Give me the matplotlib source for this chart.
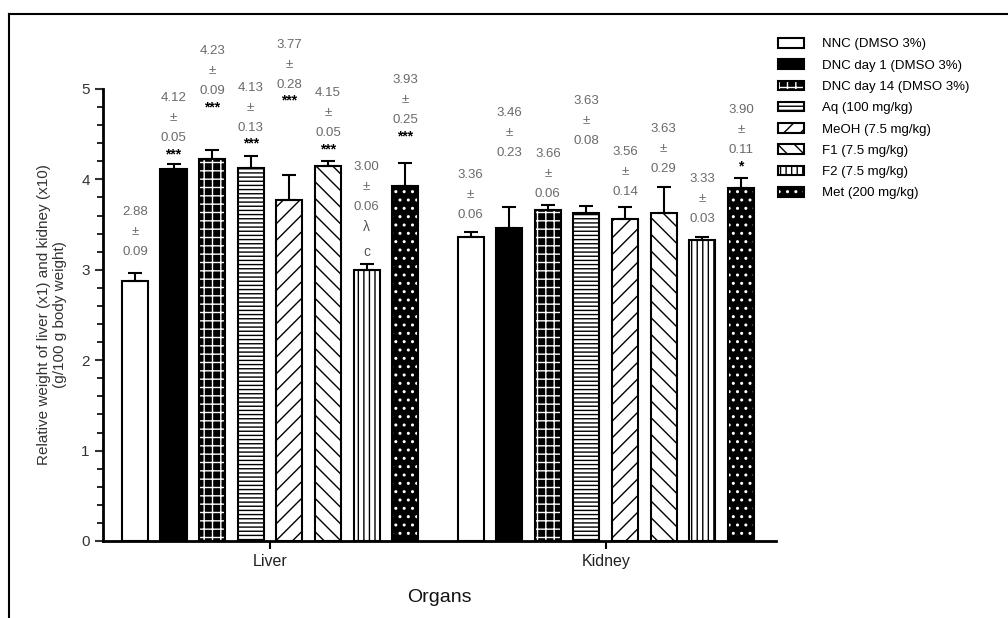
import numpy as np
import matplotlib
matplotlib.use('Agg')
import matplotlib.pyplot as plt
from matplotlib.lines import Line2D
from matplotlib.ticker import MultipleLocator

plt.rcParams['font.family'] = ['Liberation Sans', 'DejaVu Sans']
plt.rcParams['hatch.linewidth'] = 1.0

organs = ['Liver', 'Kidney']
groups = ['NNC (DMSO 3%)', 'DNC day 1 (DMSO 3%)', 'DNC day 14 (DMSO 3%)',
          'Aq (100 mg/kg)', 'MeOH (7.5 mg/kg)', 'F1 (7.5 mg/kg)',
          'F2 (7.5 mg/kg)', 'Met (200 mg/kg)']

liver_mean = [2.88, 4.12, 4.23, 4.13, 3.77, 4.15, 3.00, 3.93]
liver_sem = [0.09, 0.05, 0.09, 0.13, 0.28, 0.05, 0.06, 0.25]
kidney_mean = [3.36, 3.46, 3.66, 3.63, 3.56, 3.63, 3.33, 3.90]
kidney_sem = [0.06, 0.23, 0.06, 0.08, 0.14, 0.29, 0.03, 0.11]
liver_sig = [[], ['***'], ['***'], ['***'], ['***'], ['***'], ['λ', 'c'], ['***']]
kidney_sig = [[], [], [], [], [], [], [], ['*']]

# layout: how far (px) the first label line sits above each error bar
liver_lift = [61, 66, 99, 68, 130, 68, 97, 83]
kidney_lift = [57, 94, 51, 105, 55, 58, 58, 68]

# face colour, hatch, hatch colour
styles = [('white', '', 'black'), ('black', '', 'black'), ('black', '++', 'white'),
          ('white', '----', 'black'), ('white', '//', 'black'), ('white', '\\\\', 'black'),
          ('white', '|||', 'black'), ('black', '..', 'white')]

fig = plt.figure(figsize=(10.08, 6.18), dpi=100)
ax = fig.add_axes([103/1008, 1-541/618, (776-103)/1008, (541-89)/618])

step = 0.115
width = 0.0775
handles = []
for i, (face, hatch, hcol) in enumerate(styles):
    xs = np.arange(len(organs)) + (i - 3.5)*step
    ys = [liver_mean[i], kidney_mean[i]]
    err = [liver_sem[i], kidney_sem[i]]
    b1 = ax.bar(xs, ys, width, color=face, hatch=hatch, edgecolor=hcol, linewidth=0, zorder=2)
    b2 = ax.bar(xs, ys, width, facecolor='none', edgecolor='black', linewidth=1.5, zorder=3)
    ax.errorbar(xs, ys, yerr=[np.zeros(2), err], fmt='none', ecolor='black',
                elinewidth=1.5, capsize=5, capthick=1.5, zorder=4)
    handles.append((b1[0], b2[0]))

    for x, m, s, sig, lift in [(xs[0], liver_mean[i], liver_sem[i], liver_sig[i], liver_lift[i]),
                               (xs[1], kidney_mean[i], kidney_sem[i], kidney_sig[i], kidney_lift[i])]:
        lines = [('%.2f' % m, 0), ('±', -20), ('%.2f' % s, -40)]
        for t, off in lines:
            ax.annotate(t, xy=(x, m + s), xytext=(0, lift + off), textcoords='offset pixels',
                        ha='center', va='center', fontsize=9.5, color='#6a6a6a')
        for k, t in enumerate(sig):
            if t.startswith('*'):
                ax.annotate(t, xy=(x, m + s), xytext=(0, lift - 56), textcoords='offset pixels',
                            ha='center', va='center', fontsize=10, color='black', fontweight='bold')
            else:
                ax.annotate(t, xy=(x, m + s), xytext=(0, lift - 60 - 25*k), textcoords='offset pixels',
                            ha='center', va='center', fontsize=10, color='#555555')

ax.set_xlim(-0.4975, 1.507)
ax.set_ylim(0, 5)
ax.set_xticks(range(len(organs)))
ax.set_xticklabels(organs, fontsize=11.5, color='#222222')
ax.yaxis.set_major_locator(MultipleLocator(1))
ax.yaxis.set_minor_locator(MultipleLocator(0.2))
ax.tick_params(axis='y', which='major', length=6, width=1.5, labelsize=11, colors='#333333')
ax.tick_params(axis='y', which='minor', length=4, width=1.2)
ax.tick_params(axis='x', length=6, width=1.5)
for side in ['top', 'right']:
    ax.spines[side].set_visible(False)
for side in ['left', 'bottom']:
    ax.spines[side].set_linewidth(2)

ax.set_xlabel('Organs', fontsize=14, color='#111111', labelpad=14)
ax.set_ylabel('Relative weight of liver (x1) and kidney (x10)\n(g/100 g body weight)',
              fontsize=11, color='#333333', labelpad=10)

ax.legend(handles, groups, loc='upper left', bbox_to_anchor=(778/1008, 1-38/618),
          bbox_transform=fig.transFigure, frameon=False, fontsize=9.5,
          handlelength=2.0, handleheight=0.75, handletextpad=1.3, labelspacing=0.67,
          borderpad=0, borderaxespad=0)

# outer frame
fig.add_artist(Line2D([9/1008, 1], [1-14/618, 1-14/618], color='black', lw=1.5))
fig.add_artist(Line2D([9/1008, 9/1008], [0, 1-14/618], color='black', lw=1.5))

fig.savefig('out.png', dpi=100)
